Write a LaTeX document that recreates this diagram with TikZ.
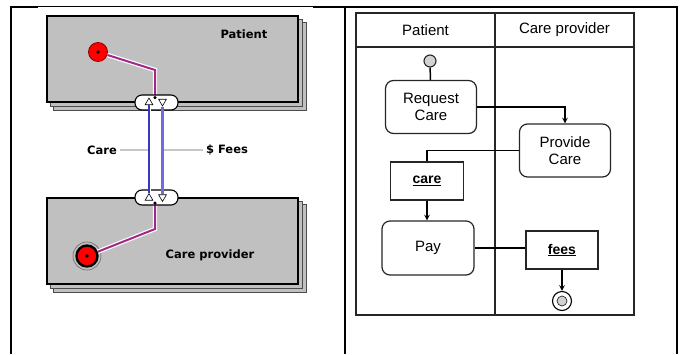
\documentclass[tikz,border=0pt]{standalone}
\usepackage{fontspec}
\setmainfont{Liberation Sans}
\newfontfamily\rolefont{DejaVu Sans}
\usetikzlibrary{positioning, calc, backgrounds, shapes.geometric, arrows}
\definecolor{rolegray}{RGB}{192,192,192}
\definecolor{linkpink}{RGB}{160,40,135}
\definecolor{careblue}{RGB}{55,55,195}
\definecolor{feeblue}{RGB}{115,105,225}
\tikzset{
    >=stealth, % filled arrow heads
    role/.style={draw=black, line width=1.3pt, fill=rolegray, minimum width=251pt, minimum height=86pt, inner sep=0pt}, % front sheet of a role
    rolesheet/.style={draw=black!70, line width=0.9pt, fill=rolegray}, % sheets stacked behind
    rolename/.style={font=\rolefont\bfseries\fontsize{11.5}{13}\selectfont},
    port/.style={draw=black, line width=1.1pt, fill=white, rounded corners=7pt, minimum width=43pt, minimum height=15pt, inner sep=0pt},
    tip/.style={regular polygon, regular polygon sides=3, draw=black, fill=white, line width=0.6pt, minimum size=9pt, inner sep=0pt},
    tap/.style={circle, fill=black, minimum size=3.5pt, inner sep=0pt},
    startdot/.style={circle, fill=red, draw=red!55!black, line width=0.8pt, minimum size=19pt, inner sep=0pt,
        path picture={\fill[black] (path picture bounding box.center) circle (1.8pt);}},
    enddot/.style={circle, fill=red, draw=black, line width=2.4pt, minimum size=21pt, inner sep=0pt,
        path picture={\fill[black] (path picture bounding box.center) circle (1.8pt);}},
    link/.style={draw=linkpink, line width=2pt, preaction={draw=white, line width=4.4pt}},
    leader/.style={draw=gray!45, line width=1.2pt},
    % swimlanes
    lane/.style={draw=black!85, line width=1.2pt, minimum width=139pt, inner sep=0pt},
    action/.style={draw=black!85, line width=1.2pt, rounded corners=8pt, minimum width=91pt, minimum height=53pt, align=center, font=\fontsize{15}{17.5}\selectfont},
    object/.style={draw=black!85, line width=1.2pt, minimum width=73pt, minimum height=38pt, font=\bfseries\fontsize{14}{16}\selectfont},
    flow/.style={line width=1.5pt},
}
\tikzstyle{arrow} = [flow, ->, >=stealth]

\begin{document}
\begin{tikzpicture}[x=1pt, y=-1pt]
    \useasboundingbox (0,0) rectangle (680,354);

    % table frame
    \draw[line width=2pt] (11,354) -- (11,6.5) -- (38,6.5);
    \draw[line width=1pt] (38,6.5) -- (313,6.5);
    \draw[line width=2pt] (313,7) -- (677,7) -- (677,354);
    \draw[line width=2pt] (345,7) -- (345,354);

    % roles
    \node[role] (pat) at (172.5,59) {};
    \node[role] (prov) at (172.5,241) {};
    \begin{scope}[on background layer]
        \foreach \d in {7.5,4} {
            \draw[rolesheet] ($(pat.north west)+(\d,\d)$) rectangle ($(pat.south east)+(\d,\d)$);
            \draw[rolesheet] ($(prov.north west)+(\d,\d)$) rectangle ($(prov.south east)+(\d,\d)$);
        }
    \end{scope}
    \node[rolename] (patname) at (244,34) {Patient};
    \node[rolename] (provname) at (210,255) {Care provider};

    % start and end of each role
    \node[startdot] (pdot) at (98,52) {};
    \node[circle, draw=black!55, line width=0.7pt, minimum size=28pt, inner sep=0pt] (cring) at (87,256) {};
    \node[enddot] (cdot) at (87,256) {};

    % ports
    \node[tap] (ptap) at (155,97.5) {};
    \node[tap] (ctap) at (155,203) {};
    \draw[link] (pdot) -- ($(ptap)+(0,-27.5)$) -- (ptap.center);
    \draw[link] (cdot) -- ($(ctap)+(0,26)$) -- (ctap.center);
    \node[port] (pport) at (156.5,102.5) {};
    \node[port] (cport) at (156.5,197.5) {};
    \node[tap] at (ptap) {};
    \node[tap] at (ctap) {};
    \node[tip] (pup) at (149,102.5) {};
    \node[tip, shape border rotate=180] (pdown) at (162.5,101.5) {};
    \node[tip] (cup) at (149,198) {};
    \node[tip, shape border rotate=180] (cdown) at (162.5,197) {};

    % interactions
    \coordinate (carejoint) at ($(pup.south)!.5!(cup.north)$);
    \coordinate (feejoint) at ($(pdown.south)!.5!(cdown.north)$);
    \node[rolename] (carelbl) at (102,150) {Care};
    \node[rolename] (feelbl) at (227,150) {\$ Fees};
    \draw[leader] (carelbl.east) -- (carelbl.east -| carejoint);
    \draw[leader] (feelbl.west) -- (feelbl.west -| feejoint);
    \draw[draw=careblue, line width=1.6pt, preaction={draw=white, line width=3pt}] (pup.south) -- (cup.north);
    \draw[draw=feeblue, line width=2.2pt, preaction={draw=white, line width=3.6pt}] (pdown.south) -- (cdown.north);

    % swimlanes
    \node[lane, minimum height=34pt, font=\fontsize{15}{17.5}\selectfont] (pathead) at (425.5,30) {Patient};
    \node[lane, minimum height=34pt, font=\fontsize{15}{17.5}\selectfont] (provhead) at (564.5,30) {Care provider};
    \node[lane, minimum height=268pt] (patlane) at (425.5,181) {};
    \node[lane, minimum height=268pt] (provlane) at (564.5,181) {};

    % activities
    \node[circle, draw=black!85, fill=gray!35, line width=1.1pt, minimum size=12pt, inner sep=0pt] (start) at (430,61) {};
    \node[action] (request) at (431,107) {Request\\Care};
    \node[action] (provide) at (565,150.5) {Provide\\Care};
    \node[object] (care) at (427,181) {\underline{care}};
    \node[action, minimum width=92pt, minimum height=54pt] (pay) at (428,248) {Pay};
    \node[object, minimum width=72pt] (fees) at (562,250) {\underline{fees}};
    \node[circle, draw=black, line width=1.1pt, minimum size=19pt, inner sep=0pt] (stop) at (562,301) {};
    \node[circle, draw=black!85, fill=gray!35, line width=0.7pt, minimum size=10pt, inner sep=0pt] (stopin) at (stop) {};

    \draw[flow] (start) -- (request);
    \draw[arrow] (request.east) -| (provide.north);
    \draw[flow] (provide.west) -| (care.north);
    \draw[arrow] (care.south) -- (care.south |- pay.north);
    \draw[flow] (pay.east) -- (pay.east -| fees.west);
    \draw[arrow] (fees.south) -- (stop.north);
\end{tikzpicture}
\end{document}
